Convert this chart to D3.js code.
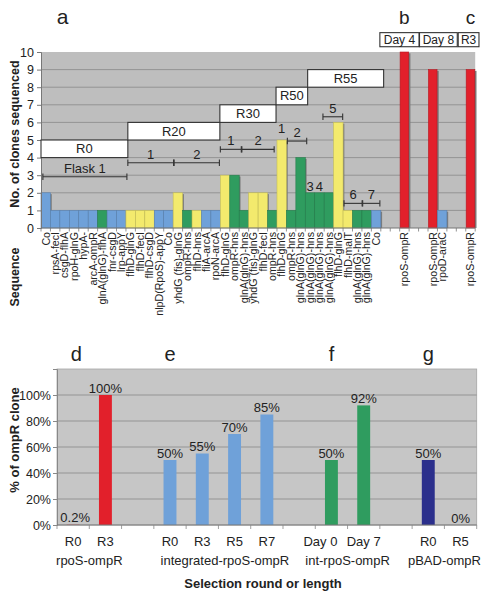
<!DOCTYPE html>
<html><head><meta charset="utf-8">
<script src="https://cdn.jsdelivr.net/npm/d3@7"></script>
<style>
html,body{margin:0;padding:0;background:#fff;}
text{font-family:"Liberation Sans",Arial,sans-serif;fill:#222;}
</style></head>
<body><svg id="c" width="491" height="600"></svg>
<script>
// ---------- Panel a/b/c data ----------
const seqLabels = ["Co","rpsA-fecI","csgD-flhA","rpoH-glnG","hypA-","arcA-ompR","glnA(glnG)-flhA","fnr-csgD","lrp-appY","flhD-glnG","flhD-fecI","flhD-csgD","nlpD(RpoS)-appY","Co","yhdG (fis)-glnG","ompR-hns","flhD-hns","fliA-arcA","rpoN-arcA","flhD-glnG","ompR-hns","glnA(glnG)-hns","yhdG (fis)-glnG","flhD-fecI","ompR-hns","flhD-glnG","ompR-hns","glnA(glnG)-hns","glnA(glnG)-hns","glnA(glnG)-hns","glnA(glnG)-hns","flhD-glnG","flhD-malT","glnA(glnG)-hns","glnA(glnG)-hns","Co","","","rpoS-ompR","","","rpoS-ompR","rpoD-araC","","","rpoS-ompR"];
const seqCounts = [2,1,1,1,1,1,1,1,1,1,1,1,1,1,2,1,1,1,1,3,3,1,2,2,1,5,1,4,2,2,2,6,1,1,1,1,null,null,10,null,null,9,1,null,null,9];
const seqKinds  = ["b","b","b","b","b","b","g","b","b","y","y","y","b","b","y","g","y","b","b","y","g","g","y","y","g","y","g","g","g","g","g","y","y","g","g","b",null,null,"r",null,null,"r","b",null,null,"r"];
const countTicks = [0,1,2,3,4,5,6,7,8,9,10];
// round boxes: [startSlot, endSlot, lowValue, highValue, label]
const roundBoxes = [[0,9.2,4,5,"R0"],[9.2,18.95,5,6,"R20"],[18.95,24.9,6,7,"R30"],[24.9,28.25,7,8,"R50"],[28.25,36.3,8,9,"R55"]];
const topBoxes = [[35.9,40.05,10.3,11.1,"Day 4"],[40.1,44.1,10.3,11.1,"Day 8"],[44.2,46.4,10.3,11.1,"R3"]];
// brackets: [startSlot, endSlot, value, label]
const brackets = [[0.2,9.1,2.91,"Flask 1"],[9.2,14.05,3.71,"1"],[14.1,18.9,3.71,"2"],[19.0,21.22,4.47,"1"],[21.28,24.7,4.47,"2"],[26.1,28.15,4.94,"2"],[29.87,31.96,6.32,"5"],[32.1,34.02,1.4,"6"],[34.08,35.9,1.4,"7"]];
// free number labels: [slot index, value, label]
const freeLabels = [[25,5.4,"1"],[28,2.1,"3"],[29,2.1,"4"]];
const panelTop = [["a",2.3],["b",38.5],["c",45.5]];

// ---------- Panel d-g data ----------
const pctCats   = ["R0","R3","","R0","R3","R5","R7","","Day 0","Day 7","","R0","R5"];
const pctValues = [0.2,100,null,50,55,70,85,null,50,92,null,50,0];
const pctKinds  = ["r","r",null,"b","b","b","b",null,"g","g",null,"n","n"];
const pctTexts  = ["0.2%","100%",null,"50%","55%","70%","85%",null,"50%","92%",null,"50%","0%"];
const pctTicks  = [0,20,40,60,80,100];
const pctGroups = [["rpoS-ompR",0.5],["integrated-rpoS-ompR",4.7],["int-rpoS-ompR",8.5],["pBAD-ompR",11.5]];
const pctPanels = [["d",0.1],["e",3],["f",8],["g",11]];

const colors = {b:"#6fa1d9", g:"#2f9c5f", y:"#f3ea6d", r:"#e2202b", n:"#2b2f8c"};
const gridCol = "#8e8e8e";

const svg = d3.select("#c");

// ================= TOP CHART =================
const x = d3.scaleBand().domain(d3.range(seqLabels.length)).range([41,475.2]).padding(0);
const slot = d3.scaleLinear().domain([0,seqLabels.length]).range([41,475.2]);
const y = d3.scaleLinear().domain([0,10]).range([228,52]);

const gTop = svg.append("g");
gTop.append("rect").attr("x",41).attr("y",y(10)).attr("width",475.2-41).attr("height",y(0)-y(10)).attr("fill","#bebebe");
gTop.selectAll("line.grid").data(countTicks.slice(1,10)).join("line")
  .attr("x1",41).attr("x2",475.2).attr("y1",d=>y(d)).attr("y2",d=>y(d))
  .attr("stroke",gridCol).attr("stroke-width",0.9);

const barData = seqCounts.map((v,i)=>({i,v,k:seqKinds[i]})).filter(d=>d.v!=null);
gTop.selectAll("rect.sh").data(barData).join("rect")
  .attr("x",d=>x(d.i)+1.3).attr("y",d=>y(d.v)+1.3).attr("width",x.bandwidth()).attr("height",d=>y(0)-y(d.v)-1.3)
  .attr("fill","#7a7a7a");
gTop.selectAll("rect.bar").data(barData).join("rect")
  .attr("x",d=>x(d.i)+(d.k==="r"?0.4:0)).attr("y",d=>y(d.v))
  .attr("width",d=>x.bandwidth()-(d.k==="r"?0.8:0)).attr("height",d=>y(0)-y(d.v))
  .attr("fill",d=>colors[d.k]).attr("stroke",d=>d3.color(colors[d.k]).darker(0.6)).attr("stroke-width",0.6);

const yAx = gTop.append("g").attr("transform","translate(41,0)")
  .call(d3.axisLeft(y).tickValues(countTicks).tickSize(4).tickPadding(3));
yAx.select(".domain").attr("stroke","#777");
yAx.selectAll(".tick line").attr("stroke","#777");
yAx.selectAll("text").attr("font-size",12.5).attr("fill","#222").attr("font-family","Liberation Sans, Arial, sans-serif");
gTop.append("line").attr("x1",41).attr("x2",475.2).attr("y1",y(0)).attr("y2",y(0)).attr("stroke","#777");
gTop.selectAll("line.xt").data(d3.range(seqLabels.length+1)).join("line")
  .attr("x1",d=>slot(d)).attr("x2",d=>slot(d)).attr("y1",y(0)).attr("y2",y(0)+3.5).attr("stroke","#777").attr("stroke-width",0.8);

gTop.selectAll("text.xl").data(seqLabels.map((l,i)=>({l,i})).filter(d=>d.l)).join("text")
  .attr("transform",d=>`translate(${x(d.i)+x.bandwidth()/2+3.8},${y(0)+4}) rotate(-90)`)
  .attr("text-anchor","end").attr("font-size",10.6).text(d=>d.l);

const allBoxes = roundBoxes.concat(topBoxes);
gTop.selectAll("rect.box").data(allBoxes).join("rect")
  .attr("x",d=>slot(d[0])).attr("y",d=>y(d[3])).attr("width",d=>slot(d[1])-slot(d[0])).attr("height",d=>y(d[2])-y(d[3]))
  .attr("fill","#fff").attr("stroke","#333").attr("stroke-width",1.1);
gTop.selectAll("text.box").data(allBoxes).join("text")
  .attr("x",d=>(slot(d[0])+slot(d[1]))/2).attr("y",d=>(y(d[2])+y(d[3]))/2+4.4)
  .attr("text-anchor","middle").attr("font-size",d=>d[2]>9.5?12:13).text(d=>d[4]);

const br = gTop.selectAll("g.br").data(brackets).join("g");
br.append("line").attr("x1",d=>slot(d[0])).attr("x2",d=>slot(d[1])).attr("y1",d=>y(d[2])).attr("y2",d=>y(d[2])).attr("stroke","#333").attr("stroke-width",1.1);
br.append("line").attr("x1",d=>slot(d[0])).attr("x2",d=>slot(d[0])).attr("y1",d=>y(d[2])-3.2).attr("y2",d=>y(d[2])+3.2).attr("stroke","#333").attr("stroke-width",1.1);
br.append("line").attr("x1",d=>slot(d[1])).attr("x2",d=>slot(d[1])).attr("y1",d=>y(d[2])-3.2).attr("y2",d=>y(d[2])+3.2).attr("stroke","#333").attr("stroke-width",1.1);
br.append("text").attr("x",d=>(slot(d[0])+slot(d[1]))/2).attr("y",d=>y(d[2])-4).attr("text-anchor","middle").attr("font-size",13).text(d=>d[3]);

gTop.selectAll("text.fl").data(freeLabels).join("text")
  .attr("x",d=>x(d[0])+x.bandwidth()/2).attr("y",d=>y(d[1])).attr("text-anchor","middle").attr("font-size",13).text(d=>d[2]);

gTop.selectAll("text.pl").data(panelTop).join("text")
  .attr("x",d=>slot(d[1])).attr("y",24).attr("text-anchor","middle").attr("font-size",d=>d[0]==="a"?21:19).text(d=>d[0]);

gTop.append("text").attr("transform","translate(18.5,134) rotate(-90)").attr("text-anchor","middle")
  .attr("font-size",12.5).attr("font-weight","bold").text("No. of clones sequenced");
gTop.append("text").attr("transform","translate(18.5,277) rotate(-90)").attr("text-anchor","middle")
  .attr("font-size",12.5).attr("font-weight","bold").text("Sequence");

// ================= BOTTOM CHART =================
const xb = d3.scaleBand().domain(d3.range(pctCats.length)).range([57,476.7]).paddingInner(0.6).paddingOuter(0.3);
const xs = i => xb(0)+xb.bandwidth()/2 + i*xb.step();
const yb = d3.scaleLinear().domain([0,120]).range([525,369]);

const gBot = svg.append("g");
gBot.append("rect").attr("x",57).attr("y",yb(120)).attr("width",476.7-57).attr("height",yb(0)-yb(120)).attr("fill","#c6c6c6")
  .attr("stroke","#a5a5a5").attr("stroke-width",0.8);
gBot.selectAll("line.grid").data(pctTicks.slice(1)).join("line")
  .attr("x1",57).attr("x2",476.7).attr("y1",d=>yb(d)).attr("y2",d=>yb(d)).attr("stroke",gridCol).attr("stroke-width",0.9);

const pData = pctValues.map((v,i)=>({i,v,k:pctKinds[i],t:pctTexts[i]})).filter(d=>d.v!=null);
gBot.selectAll("rect.bar").data(pData).join("rect")
  .attr("x",d=>xb(d.i)).attr("y",d=>yb(d.v)).attr("width",xb.bandwidth()).attr("height",d=>yb(0)-yb(d.v))
  .attr("fill",d=>colors[d.k]);
gBot.selectAll("text.vl").data(pData).join("text")
  .attr("x",d=>xs(d.i)+(d.v<1&&d.v>0?2:0)).attr("y",d=>yb(d.v)-2.5).attr("text-anchor","middle").attr("font-size",13).text(d=>d.t);

const ybAx = gBot.append("g").attr("transform","translate(57,0)")
  .call(d3.axisLeft(yb).tickValues(pctTicks).tickFormat(d=>d+"%").tickSize(4).tickPadding(2));
ybAx.select(".domain").attr("stroke","#888");
ybAx.selectAll(".tick line").attr("stroke","#888");
ybAx.selectAll("text").attr("font-size",12.5).attr("fill","#333").attr("font-family","Liberation Sans, Arial, sans-serif");
gBot.append("line").attr("x1",57).attr("x2",476.7).attr("y1",yb(0)).attr("y2",yb(0)).attr("stroke","#777");
gBot.selectAll("line.xt").data(d3.range(pctCats.length+1)).join("line")
  .attr("x1",d=>57+d*xb.step()).attr("x2",d=>57+d*xb.step()).attr("y1",yb(0)).attr("y2",yb(0)+4).attr("stroke","#888").attr("stroke-width",0.8);

gBot.selectAll("text.xl").data(pctCats.map((l,i)=>({l,i})).filter(d=>d.l)).join("text")
  .attr("x",d=>xs(d.i)).attr("dx",d=>d.l==="Day 0"?-11:0).attr("y",546).attr("text-anchor","middle").attr("font-size",13).text(d=>d.l);
gBot.selectAll("text.gl").data(pctGroups).join("text")
  .attr("x",d=>xs(d[1])).attr("y",565).attr("text-anchor","middle").attr("font-size",13).text(d=>d[0]);
gBot.selectAll("text.pl").data(pctPanels).join("text")
  .attr("x",d=>xs(d[1])).attr("y",361).attr("text-anchor","middle").attr("font-size",20).text(d=>d[0]);

gBot.append("text").attr("x",263).attr("y",588).attr("text-anchor","middle").attr("font-size",13).attr("font-weight","bold").text("Selection round or length");
gBot.append("text").attr("transform","translate(19,440) rotate(-90)").attr("text-anchor","middle")
  .attr("font-size",13).attr("font-weight","bold").text("% of ompR clone");
</script></body></html>
